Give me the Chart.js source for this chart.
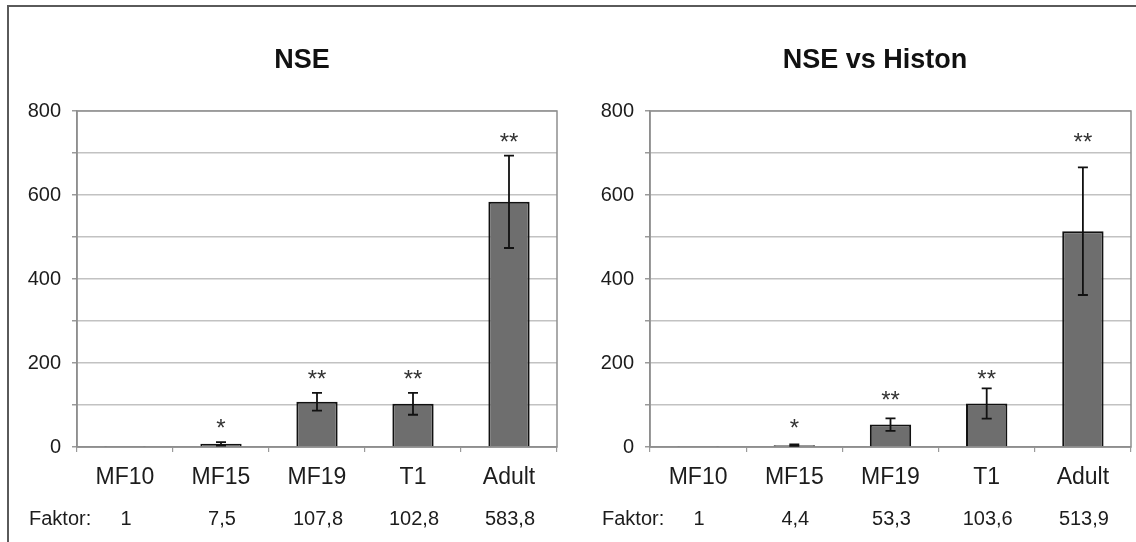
<!DOCTYPE html>
<html>
<head>
<meta charset="utf-8">
<script src="https://cdn.jsdelivr.net/npm/chart.js@4.4.1/dist/chart.umd.min.js"></script>
<style>
  html, body { margin: 0; padding: 0; background: #fff; }
  #page { position: relative; width: 1136px; height: 542px; overflow: hidden; background: #fff; }
  #frame { position: absolute; left: 7px; top: 5px; width: 1200px; height: 700px;
           border-left: 2px solid #5a5a5a; border-top: 2px solid #5a5a5a; }
  canvas { position: absolute; top: 0; }
</style>
</head>
<body>
<div id="page">
  <div id="frame"></div>
  <canvas id="chartNSE" width="590" height="542" style="left:0;width:590px;height:542px"></canvas>
  <canvas id="chartHiston" width="546" height="542" style="left:590px;width:546px;height:542px"></canvas>
</div>
<script>
// ---- data ----
const categories = ['MF10', 'MF15', 'MF19', 'T1', 'Adult'];
const yTicks = [0, 200, 400, 600, 800];

const nseValues = [1, 7.5, 107.8, 102.8, 583.8];
const nseErrors = [0, 4, 21, 26, 110];
const nseSignif = ['', '*', '**', '**', '**'];

const histonValues = [1, 4.4, 53.3, 103.6, 513.9];
const histonErrors = [0, 1.5, 15, 36, 152];
const histonSignif = ['', '*', '**', '**', '**'];

// ---- layout & style ----
const FONT = '"Liberation Sans", Arial, sans-serif';
const TEXT = '#1c1c1c';
const PLOT_TOP = 111;
const PLOT_BOTTOM = 447;
const FAKTOR_Y = 519;

function fmt(v) { return String(v).replace('.', ','); }

const overlay = {
  id: 'overlay',
  beforeDatasetsDraw(chart) {
    const a = chart.chartArea, ctx = chart.ctx;
    ctx.save();
    ctx.strokeStyle = '#8e8e8e';
    ctx.lineWidth = 1.5;
    ctx.strokeRect(a.left, a.top, a.right - a.left, a.bottom - a.top);
    ctx.restore();
  },
  afterDatasetsDraw(chart, args, o) {
    const ctx = chart.ctx, ys = chart.scales.y;
    const meta = chart.getDatasetMeta(0);
    ctx.save();
    meta.data.forEach((bar, i) => {
      const v = o.values[i], e = o.errors[i];
      let top = ys.getPixelForValue(v);
      if (e > 0) {
        top = ys.getPixelForValue(v + e);
        const bot = ys.getPixelForValue(v - e);
        ctx.strokeStyle = '#111';
        ctx.lineWidth = 1.8;
        ctx.beginPath();
        ctx.moveTo(bar.x, top); ctx.lineTo(bar.x, bot);
        ctx.moveTo(bar.x - 5, top); ctx.lineTo(bar.x + 5, top);
        ctx.moveTo(bar.x - 5, bot); ctx.lineTo(bar.x + 5, bot);
        ctx.stroke();
      }
      if (o.signif[i]) {
        const cy = top - o.starGap[i];
        ctx.fillStyle = '#333';
        ctx.font = '24px ' + FONT;
        ctx.textAlign = 'center';
        ctx.textBaseline = 'alphabetic';
        ctx.fillText(o.signif[i], bar.x, cy + 11);
      }
    });
    ctx.restore();
  },
  afterDraw(chart, args, o) {
    const ctx = chart.ctx, a = chart.chartArea;
    const meta = chart.getDatasetMeta(0);
    ctx.save();
    ctx.fillStyle = '#111';
    ctx.font = 'bold 27px ' + FONT;
    ctx.textAlign = 'center';
    ctx.textBaseline = 'middle';
    ctx.fillText(o.title, o.titleX, 61);

    ctx.fillStyle = TEXT;
    ctx.font = '20px ' + FONT;
    ctx.textAlign = 'left';
    ctx.fillText('Faktor:', a.left - 48, FAKTOR_Y);
    ctx.textAlign = 'center';
    meta.data.forEach((bar, i) => ctx.fillText(fmt(o.values[i]), bar.x + 1, FAKTOR_Y));
    ctx.restore();
  }
};

function makeChart(id, cfg) {
  const canvas = document.getElementById(id);
  return new Chart(canvas, {
    type: 'bar',
    data: {
      labels: categories,
      datasets: [{
        data: cfg.values,
        backgroundColor: '#6e6e6e',
        borderColor: '#111',
        borderWidth: 2,
        barPercentage: 0.43,
        categoryPercentage: 1
      }]
    },
    options: {
      responsive: false,
      animation: false,
      layout: { padding: { left: 0, right: canvas.width - cfg.plotRight, top: PLOT_TOP, bottom: 0 } },
      plugins: {
        legend: { display: false },
        tooltip: { enabled: false },
        overlay: cfg
      },
      scales: {
        x: {
          grid: { display: true, drawOnChartArea: false, offset: true, tickLength: 5, tickColor: '#9a9a9a', lineWidth: 1.2 },
          border: { color: '#8e8e8e', width: 1.5 },
          ticks: { color: TEXT, font: { family: FONT, size: 23 }, padding: 12 },
          afterFit(s) { s.height = canvas.height - PLOT_BOTTOM; }
        },
        y: {
          min: 0, max: 800,
          ticks: {
            stepSize: 100,
            color: TEXT,
            font: { family: FONT, size: 20 },
            padding: 11,
            callback: v => (yTicks.includes(v) ? v : '')
          },
          grid: { color: '#c2c2c2', lineWidth: 1.5, tickLength: 5, tickColor: '#9a9a9a' },
          border: { color: '#8e8e8e', width: 1.5 },
          afterFit(s) { s.width = cfg.plotLeft; }
        }
      }
    },
    plugins: [overlay]
  });
}

makeChart('chartNSE', {
  title: 'NSE', titleX: 302,
  plotLeft: 77, plotRight: 557,
  values: nseValues, errors: nseErrors, signif: nseSignif,
  starGap: [0, 17, 17, 17, 17]
});

makeChart('chartHiston', {
  title: 'NSE vs Histon', titleX: 285,
  plotLeft: 60, plotRight: 541,
  values: histonValues, errors: histonErrors, signif: histonSignif,
  starGap: [0, 20, 21, 12, 28]
});
</script>
</body>
</html>
